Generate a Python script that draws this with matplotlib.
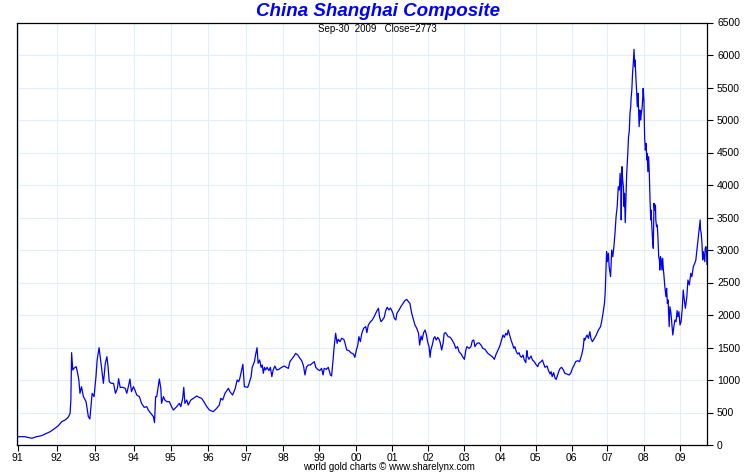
import numpy as np
import matplotlib
matplotlib.use('Agg')
import matplotlib.pyplot as plt

plt.rcParams['font.family'] = ['Liberation Sans', 'DejaVu Sans']

# Shanghai composite (decimal year, index level)
d_9196 = [1991.01, 1991.18, 1991.36, 1991.48, 1991.61, 1991.74, 1991.83, 1991.95, 1992.04, 1992.13,
          1992.22, 1992.30, 1992.35, 1992.37, 1992.39, 1992.42, 1992.45, 1992.51, 1992.54, 1992.58,
          1992.61, 1992.65, 1992.70, 1992.77, 1992.83, 1992.87, 1992.93, 1992.98, 1993.03, 1993.06,
          1993.11, 1993.15, 1993.18, 1993.22, 1993.27, 1993.31, 1993.34, 1993.37, 1993.42, 1993.48,
          1993.53, 1993.58, 1993.61, 1993.65, 1993.72, 1993.78, 1993.82, 1993.87, 1993.90, 1993.94,
          1993.99, 1994.03, 1994.08, 1994.15, 1994.21, 1994.28, 1994.35, 1994.39, 1994.46, 1994.53,
          1994.56, 1994.59, 1994.62, 1994.66, 1994.69, 1994.73, 1994.75, 1994.80, 1994.84, 1994.89,
          1994.96, 1995.02, 1995.07, 1995.16, 1995.23, 1995.27, 1995.32, 1995.35, 1995.38, 1995.43,
          1995.47, 1995.54, 1995.61, 1995.70, 1995.76, 1995.83, 1995.89, 1995.97, 1996.04, 1996.14,
          1996.23, 1996.30, 1996.34, 1996.39, 1996.45, 1996.54, 1996.58, 1996.65, 1996.72, 1996.77,
          1996.81, 1996.84, 1996.92, 1996.96]
v_9196 = [128, 128, 103, 128, 144, 180, 205, 256, 297, 359,
          385, 426, 487, 692, 1420, 1154, 1180, 1205, 1128, 1000,
          795, 897, 744, 667, 436, 400, 795, 744, 1051, 1308,
          1497, 1308, 1154, 949, 1256, 1359, 1205, 974, 949, 949,
          795, 872, 1020, 887, 887, 872, 795, 923, 1015, 820,
          897, 846, 769, 744, 641, 579, 590, 538, 487, 436,
          344, 744, 744, 897, 1015, 872, 641, 744, 692, 667,
          667, 590, 538, 590, 641, 590, 718, 887, 641, 692,
          615, 692, 718, 754, 733, 718, 667, 590, 538, 513,
          564, 615, 718, 692, 795, 872, 820, 769, 872, 1000,
          974, 1025, 1241, 897]

d_9700 = [1997.05, 1997.08, 1997.14, 1997.17, 1997.23, 1997.26, 1997.30, 1997.33, 1997.37, 1997.41,
          1997.44, 1997.47, 1997.50, 1997.53, 1997.57, 1997.62, 1997.66, 1997.70, 1997.73, 1997.78,
          1997.83, 1997.89, 1997.96, 1998.04, 1998.09, 1998.15, 1998.19, 1998.26, 1998.31, 1998.35,
          1998.41, 1998.47, 1998.52, 1998.57, 1998.61, 1998.65, 1998.70, 1998.76, 1998.81, 1998.87,
          1998.91, 1998.96, 1999.02, 1999.07, 1999.11, 1999.14, 1999.20, 1999.25, 1999.31, 1999.34,
          1999.38, 1999.41, 1999.45, 1999.49, 1999.52, 1999.57, 1999.61, 1999.67, 1999.70, 1999.75,
          1999.81, 1999.86, 1999.93, 1999.97, 2000.01, 2000.05, 2000.08, 2000.12, 2000.16, 2000.21,
          2000.27, 2000.30, 2000.34, 2000.40, 2000.45, 2000.51]
v_9700 = [887, 938, 1051, 1195, 1282, 1385, 1497, 1256, 1308, 1195,
          1231, 1103, 1195, 1154, 1195, 1144, 1195, 1051, 1144, 1215,
          1154, 1164, 1195, 1215, 1195, 1179, 1282, 1333, 1369, 1410,
          1385, 1333, 1297, 1215, 1077, 1195, 1231, 1231, 1256, 1282,
          1195, 1164, 1144, 1179, 1077, 1179, 1164, 1195, 1077, 1062,
          1308, 1513, 1718, 1564, 1626, 1590, 1641, 1626, 1574, 1462,
          1451, 1420, 1400, 1349, 1462, 1538, 1667, 1590, 1718, 1795,
          1821, 1728, 1846, 1897, 1923, 1985]

d_0003 = [2000.58, 2000.62, 2000.65, 2000.69, 2000.73, 2000.78, 2000.82, 2000.86, 2000.91, 2000.95,
          2000.99, 2001.02, 2001.06, 2001.10, 2001.13, 2001.19, 2001.24, 2001.30, 2001.35, 2001.40,
          2001.45, 2001.49, 2001.54, 2001.59, 2001.63, 2001.68, 2001.73, 2001.76, 2001.80, 2001.83,
          2001.87, 2001.91, 2001.95, 2001.98, 2002.02, 2002.05, 2002.07, 2002.11, 2002.15, 2002.18,
          2002.22, 2002.26, 2002.30, 2002.33, 2002.37, 2002.41, 2002.44, 2002.48, 2002.52, 2002.55,
          2002.61, 2002.66, 2002.72, 2002.76, 2002.81, 2002.85, 2002.91, 2002.96, 2003.00, 2003.04,
          2003.07, 2003.13, 2003.18, 2003.22, 2003.26, 2003.29, 2003.35, 2003.40, 2003.46, 2003.51]
v_0003 = [2067, 2103, 1974, 1897, 1923, 1964, 2067, 2118, 2077, 2108,
          2067, 2026, 1949, 1923, 2026, 2077, 2128, 2179, 2220, 2241,
          2205, 2179, 2026, 1923, 1846, 1795, 1718, 1538, 1677, 1615,
          1728, 1769, 1692, 1590, 1513, 1349, 1462, 1538, 1641, 1667,
          1615, 1656, 1626, 1574, 1462, 1564, 1718, 1728, 1692, 1667,
          1656, 1615, 1554, 1487, 1513, 1436, 1400, 1349, 1318, 1462,
          1513, 1487, 1513, 1605, 1615, 1513, 1564, 1574, 1538, 1487]

d_0306 = [2003.57, 2003.65, 2003.71, 2003.77, 2003.83, 2003.88, 2003.94, 2003.99, 2004.03, 2004.07,
          2004.11, 2004.15, 2004.19, 2004.22, 2004.26, 2004.30, 2004.34, 2004.38, 2004.41, 2004.45,
          2004.49, 2004.53, 2004.56, 2004.60, 2004.64, 2004.68, 2004.72, 2004.75, 2004.77, 2004.81,
          2004.87, 2004.91, 2004.96, 2005.02, 2005.06, 2005.09, 2005.15, 2005.19, 2005.22, 2005.26,
          2005.32, 2005.35, 2005.40, 2005.43, 2005.46, 2005.50, 2005.54, 2005.57, 2005.61, 2005.65,
          2005.68, 2005.72, 2005.77, 2005.81, 2005.87, 2005.93, 2005.98, 2006.02, 2006.07, 2006.11,
          2006.17, 2006.22, 2006.28, 2006.32, 2006.35, 2006.37, 2006.40, 2006.43, 2006.47, 2006.51,
          2006.54, 2006.58, 2006.64, 2006.69, 2006.75, 2006.81, 2006.84, 2006.88, 2006.92]
v_0306 = [1472, 1410, 1385, 1359, 1318, 1400, 1472, 1538, 1615, 1692,
          1656, 1718, 1692, 1769, 1692, 1615, 1554, 1487, 1513, 1436,
          1400, 1420, 1369, 1349, 1385, 1308, 1267, 1451, 1369, 1318,
          1369, 1308, 1282, 1231, 1205, 1256, 1282, 1308, 1256, 1195,
          1215, 1154, 1092, 1128, 1051, 1113, 1026, 1010, 1077, 1144,
          1179, 1195, 1154, 1103, 1092, 1077, 1113, 1179, 1231, 1282,
          1297, 1282, 1385, 1487, 1641, 1615, 1656, 1692, 1641, 1744,
          1641, 1590, 1641, 1692, 1769, 1821, 1897, 2026, 2179]

d_0709 = [2006.94, 2006.96, 2006.98, 2007.00, 2007.03, 2007.05, 2007.09, 2007.12, 2007.15, 2007.18,
          2007.21, 2007.24, 2007.27, 2007.30, 2007.33, 2007.35, 2007.37, 2007.38, 2007.40, 2007.42,
          2007.44, 2007.46, 2007.47, 2007.49, 2007.51, 2007.53, 2007.56, 2007.58, 2007.60, 2007.62,
          2007.64, 2007.65, 2007.67, 2007.69, 2007.71, 2007.73, 2007.75, 2007.76, 2007.78, 2007.80,
          2007.82, 2007.84, 2007.86, 2007.87, 2007.89, 2007.91, 2007.93, 2007.95, 2007.97, 2007.98,
          2008.00, 2008.02, 2008.04, 2008.06, 2008.08, 2008.09, 2008.11, 2008.13, 2008.15, 2008.17,
          2008.19, 2008.20, 2008.22, 2008.24, 2008.26, 2008.28, 2008.30, 2008.32, 2008.33, 2008.35,
          2008.37, 2008.39, 2008.41, 2008.43, 2008.44, 2008.46, 2008.48, 2008.50, 2008.52, 2008.54,
          2008.55, 2008.58, 2008.61, 2008.63, 2008.65, 2008.67, 2008.70, 2008.72, 2008.75, 2008.78,
          2008.80, 2008.83, 2008.86, 2008.89, 2008.92, 2008.94, 2008.97, 2009.00, 2009.03, 2009.06,
          2009.09, 2009.12, 2009.15, 2009.19, 2009.22, 2009.26, 2009.30, 2009.33, 2009.37, 2009.41,
          2009.44, 2009.48, 2009.52, 2009.54, 2009.56, 2009.57, 2009.59, 2009.61, 2009.63, 2009.65,
          2009.67, 2009.69, 2009.70, 2009.72, 2009.74, 2009.75]
v_0709 = [2333, 2641, 2974, 2820, 2949, 2744, 2590, 3000, 2897, 3051,
          3256, 3513, 3667, 3974, 3923, 4179, 3974, 3462, 4282, 4077,
          3974, 3667, 3872, 3420, 3821, 4179, 4487, 4744, 4821, 5103,
          5205, 5333, 5462, 5718, 5872, 6087, 5821, 5923, 5667, 5462,
          5205, 5410, 5051, 4897, 5154, 5000, 5103, 5180, 5359, 5487,
          5308, 4744, 4538, 4641, 4385, 4487, 4205, 4436, 4179, 3769,
          3462, 3615, 3359, 3154, 3026, 3718, 3615, 3692, 3462, 3359,
          3385, 3179, 2897, 2846, 2692, 2897, 2846, 2692, 2872, 2692,
          2641, 2436, 2282, 2410, 2179, 2231, 1821, 2128, 2026, 1821,
          1692, 1821, 1923, 1897, 2067, 1974, 2051, 1846, 1897, 2077,
          2385, 2231, 2103, 2282, 2538, 2462, 2641, 2590, 2744, 2795,
          2846, 3051, 3256, 3359, 3462, 3308, 3256, 3103, 2846, 2974,
          2897, 2820, 3026, 3051, 2949, 2779]

dates = np.array(d_9196 + d_9700 + d_0003 + d_0306 + d_0709)
values = np.array(v_9196 + v_9700 + v_0003 + v_0306 + v_0709)

year_ticks = list(range(1991, 2010))
year_labels = ['%02d' % (y % 100) for y in year_ticks]
value_ticks = list(range(0, 6501, 500))

# the source axis runs on trading days, so years aren't all equally wide.
# year start positions measured on the original (px)
knot_years = list(range(1990, 2011))
knot_px = [-21.2, 17.8, 56.8, 94.8, 133.8, 170.8, 207.9, 245.9, 283.0, 319.0, 356.0,
           392.2, 428.3, 464.4, 500.5, 535.6, 571.7, 607.3, 643.9, 680.0, 716.0]


def fwd(x):
    return np.interp(x, knot_years, knot_px)


def inv(p):
    return np.interp(p, knot_px, knot_years)


fig = plt.figure(figsize=(7.54, 4.75), dpi=100)
ax = fig.add_axes([17 / 754, 1 - 445 / 475, 690.3 / 754, 422.5 / 475])

ax.set_xscale('function', functions=(fwd, inv))
ax.plot(dates, values, color='#0000ff', lw=0.9)

ax.set_xlim(float(inv(17.0)), float(inv(707.3)))
ax.set_ylim(0, 6500)
ax.set_xticks(year_ticks)
ax.set_xticklabels(year_labels)
ax.xaxis.set_minor_locator(plt.NullLocator())
ax.set_yticks(value_ticks)
ax.set_yticklabels([str(v) for v in value_ticks])
ax.yaxis.tick_right()

ax.tick_params(axis='x', direction='out', length=4, width=0.8, pad=2, labelsize=7.5)
ax.tick_params(axis='y', direction='out', length=4, width=0.8, pad=3, labelsize=7.5,
               right=True, left=False)
ax.grid(True, color='#e2effa', lw=0.8)
ax.set_axisbelow(True)
for s in ax.spines.values():
    s.set_linewidth(0.9)
    s.set_color('black')

fig.text(378 / 754, 1 - 12 / 475, 'China Shanghai Composite', ha='center', va='center',
         fontsize=13.5, fontweight='bold', style='italic', color='#0000ff')
fig.text(377 / 754, 1 - 29 / 475, 'Sep-30  2009   Close=2773', ha='center', va='center',
         fontsize=7)
fig.text(389 / 754, 1 - 467 / 475, 'world gold charts \u00a9 www.sharelynx.com', ha='center',
         va='center', fontsize=7)

fig.savefig('out.png', dpi=100)
